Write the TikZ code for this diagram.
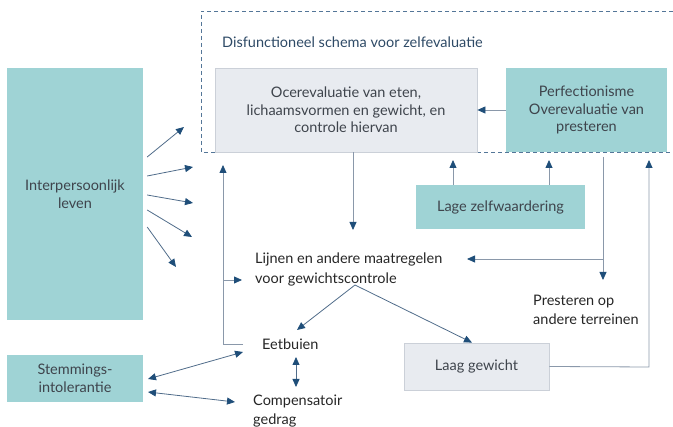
\documentclass[tikz,border=0pt]{standalone}
\usepackage{fontspec}
\setmainfont{Lato}
\usetikzlibrary{arrows.meta,calc}
\definecolor{hteal}{RGB}{159,211,213}
\definecolor{hgrey}{RGB}{232,235,240}
\definecolor{hedge}{RGB}{203,208,216}
\definecolor{hblue}{RGB}{31,78,121}
\definecolor{hline}{RGB}{138,152,170}
\definecolor{hdiag}{RGB}{80,108,138}
\definecolor{hdash}{RGB}{84,118,152}
\definecolor{htext}{RGB}{62,68,76}
\definecolor{htitle}{RGB}{46,74,102}
\tikzset{
  tealbox/.style={rectangle,fill=hteal},
  greybox/.style={rectangle,fill=hgrey,draw=hedge,line width=0.8},
  pijl/.style={draw=#1,line width=0.8,-{Triangle[length=8,width=7,color=hblue]}},
  pijl/.default=hline,
  tweepijl/.style={draw=hdiag,line width=0.8,{Triangle[length=8,width=7,color=hblue]}-{Triangle[length=8,width=7,color=hblue]}},
  los/.style={align=left,inner sep=0,text=black!85}
}
\newcommand{\vak}[6]{\node[#1,minimum width=#4,minimum height=#5,inner sep=0,text=htext,align=center] (#2) at (#3) {#6};}

\begin{document}
\begin{tikzpicture}[x=1pt,y=-1pt,font=\fontsize{14.5}{17.5}\selectfont]
  \useasboundingbox (0,0) rectangle (673,427);
  \draw[hdash,line width=0.8,dash pattern=on 4 off 3] (680,11) -- (201,11) -- (201,152) -- (680,152);
  \node[anchor=west,inner sep=0,text=htitle] (titel) at (222,42) {Disfunctioneel schema voor zelfevaluatie};
  \vak{tealbox}{inter}{75,194}{136}{252}{Interpersoonlijk\\leven};
  \vak{greybox}{ocer}{346,110}{262}{84}{Ocerevaluatie van eten,\\lichaamsvormen en gewicht, en\\controle hiervan};
  \vak{tealbox}{perf}{586.5,110}{161}{84}{Perfectionisme\\Overevaluatie van\\presteren};
  \vak{tealbox}{lage}{500.5,207}{169}{44}{Lage zelfwaardering};
  \vak{greybox}{laag}{476.5,366.5}{145}{47}{Laag gewicht};
  \vak{tealbox}{stem}{75,378.5}{136}{47}{Stemmings-\\intolerantie};
  \node[los,anchor=west] (lijnen) at (255,269.5) {Lijnen en andere maatregelen\\[3pt]voor gewichtscontrole};
  \node[los,anchor=west] (eet) at (262,344) {Eetbuien};
  \node[los,anchor=west] (comp) at (253,411) {Compensatoir\\[1pt]gedrag};
  \node[los,anchor=west] (prest) at (533,310) {Presteren op\\[2pt]andere terreinen};
  \coordinate (splits) at (355,285);
  \coordinate (links) at (223,344);
  \coordinate (rechts) at (649,367);
  \draw[pijl] (perf.west) -- (ocer.east);
  \draw[pijl] (ocer.south -| 353,0) -- (353,230);
  \draw[pijl] (lage.north -| 453,0) -- (453,160);
  \draw[pijl] (lage.north -| 549,0) -- (549,160);
  \draw[pijl] (603,157) -- (603,280);
  \draw[pijl] (603,259) -- (467,259);
  \draw[pijl] (laag.east) -- (rechts) -- (649,160);
  \draw[pijl] (243,344) -- (links) -- (223,165);
  \draw[pijl] (223,280) -- (242,280);
  \draw[pijl=hdiag] (splits) -- (297,330);
  \draw[pijl=hdiag] (splits) -- (laag.north -| 472,0);
  \draw[tweepijl] (296,357) -- (296,387);
  \draw[tweepijl] (148,379) -- (243,352);
  \draw[tweepijl] (148,392) -- (235,402);
  \foreach \sy/\ex/\ey in {157/184/127,176/193/167,195/193/203,210/192/237,227/176/267}
    \draw[pijl=hdiag] ($(inter.east |- 0,\sy)+(4,0)$) -- (\ex,\ey);
\end{tikzpicture}
\end{document}
